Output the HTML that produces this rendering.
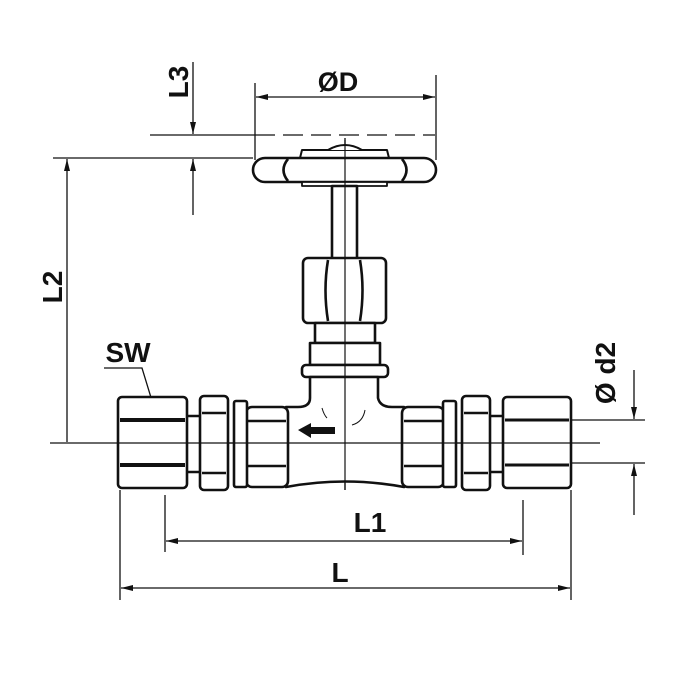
<!DOCTYPE html>
<html><head><meta charset="utf-8"><style>
html,body{margin:0;padding:0;background:#fff}
svg{display:block}
text{font-family:"Liberation Sans",Arial,sans-serif;font-weight:bold;fill:#111}
</style></head><body>
<svg width="700" height="700" viewBox="0 0 700 700" xmlns="http://www.w3.org/2000/svg">
<defs>
<marker id="a" viewBox="0 0 12 6" refX="12" refY="3" markerWidth="12" markerHeight="6" orient="auto-start-reverse" markerUnits="userSpaceOnUse">
<path d="M0,0 L12,3 L0,6 z" fill="#111"/></marker>
</defs>
<g stroke="#111" stroke-width="1.3" fill="none">
<line x1="255" y1="83" x2="255" y2="160"/>
<line x1="436" y1="75" x2="436" y2="160"/>
<line x1="256" y1="97" x2="435" y2="97" marker-start="url(#a)" marker-end="url(#a)"/>
<line x1="150" y1="135" x2="255" y2="135"/>
<line x1="255" y1="135" x2="435" y2="135" stroke-dasharray="20,8"/>
<line x1="53" y1="158" x2="253" y2="158"/>
<line x1="193" y1="62" x2="193" y2="134" marker-end="url(#a)"/>
<line x1="193" y1="215" x2="193" y2="159" marker-end="url(#a)"/>
<line x1="67" y1="442" x2="67" y2="159" marker-end="url(#a)"/>
<line x1="50" y1="443" x2="600" y2="443"/>
<line x1="345" y1="138" x2="345" y2="490" stroke-dasharray="40,5,6,5"/>
<line x1="571" y1="420" x2="645" y2="420"/>
<line x1="571" y1="463" x2="645" y2="463"/>
<line x1="634" y1="370" x2="634" y2="419" marker-end="url(#a)"/>
<line x1="634" y1="515" x2="634" y2="464" marker-end="url(#a)"/>
<line x1="165" y1="495" x2="165" y2="552"/>
<line x1="523" y1="500" x2="523" y2="555"/>
<line x1="166" y1="541" x2="522" y2="541" marker-start="url(#a)" marker-end="url(#a)"/>
<line x1="120" y1="490" x2="120" y2="600"/>
<line x1="571" y1="490" x2="571" y2="600"/>
<line x1="121" y1="588" x2="570" y2="588" marker-start="url(#a)" marker-end="url(#a)"/>
<polyline points="104,368 142,368 156,414"/>
</g>
<g stroke="#111" stroke-width="2.6" fill="#fff" stroke-linejoin="round">
<path d="M300,158 L302,150 L387,150 L389,158 Z" stroke-width="2"/>
<path d="M328,150 Q345,140 362,150" stroke-width="2"/>
<rect x="253" y="158" width="183" height="24" rx="12"/>
<path d="M288,159 Q279,170 288,181 M402,159 Q411,170 402,181" fill="none"/>
<path d="M302,182 L387,182 L387,186 L302,186 Z" stroke-width="1.8"/>
<rect x="332" y="186" width="25" height="73"/>
<rect x="303" y="258" width="83" height="65" rx="5"/>
<path d="M328,260 Q323,290 328,321 M360,260 Q365,290 360,321" fill="none"/>
<rect x="315" y="323" width="60" height="20"/>
<rect x="310" y="343" width="70" height="22"/>
<rect x="302" y="365" width="86" height="12" rx="4"/>
<path d="M310,377 L378,377 L378,398 Q380,407 392,407 L404,407 L404,487 Q345,476 286,487 L286,407 L298,407 Q310,407 310,398 Z"/>
<rect x="246" y="407" width="42" height="80" rx="6"/>
<path d="M248,421 L286,421 M248,466 L286,466" fill="none"/>
<rect x="234" y="401" width="13" height="86" rx="2"/>
<rect x="186" y="416" width="15" height="56"/>
<rect x="200" y="396" width="28" height="94" rx="4"/>
<path d="M202,413 L226,413 M202,473 L226,473" fill="none"/>
<rect x="118" y="397" width="69" height="91" rx="4"/>
<path d="M120,420 L185,420 M120,465 L185,465" fill="none" stroke-width="4"/>
<rect x="402" y="407" width="42" height="80" rx="6"/>
<path d="M404,421 L442,421 M404,466 L442,466" fill="none"/>
<rect x="443" y="401" width="13" height="86" rx="2"/>
<rect x="489" y="416" width="15" height="56"/>
<rect x="462" y="396" width="28" height="94" rx="4"/>
<path d="M464,413 L488,413 M464,473 L488,473" fill="none"/>
<rect x="503" y="397" width="68" height="91" rx="4"/>
<path d="M505,420 L569,420 M505,465 L569,465" fill="none" stroke-width="3"/>
</g>
<g stroke="#111" stroke-width="1.2" fill="none">
<line x1="118" y1="443" x2="571" y2="443"/>
<line x1="345" y1="140" x2="345" y2="490"/>
<path d="M322,408 Q324,415 327,418 M365,410 Q363,422 352,425" stroke-width="1"/>
</g>
<path d="M298,430 L311,423 L311,427 L335,427 L335,434 L311,434 L311,438 Z" fill="#111"/>
<text x="338" y="91" font-size="27" text-anchor="middle">ØD</text>
<text transform="translate(188,82) rotate(-90)" font-size="28" text-anchor="middle">L3</text>
<text transform="translate(62,287) rotate(-90)" font-size="28" text-anchor="middle">L2</text>
<text x="128" y="362" font-size="28" text-anchor="middle">SW</text>
<text transform="translate(615,373) rotate(-90)" font-size="28" text-anchor="middle">Ø d2</text>
<text x="370" y="532" font-size="28" text-anchor="middle">L1</text>
<text x="340" y="582" font-size="28" text-anchor="middle">L</text>
</svg>
</body></html>
